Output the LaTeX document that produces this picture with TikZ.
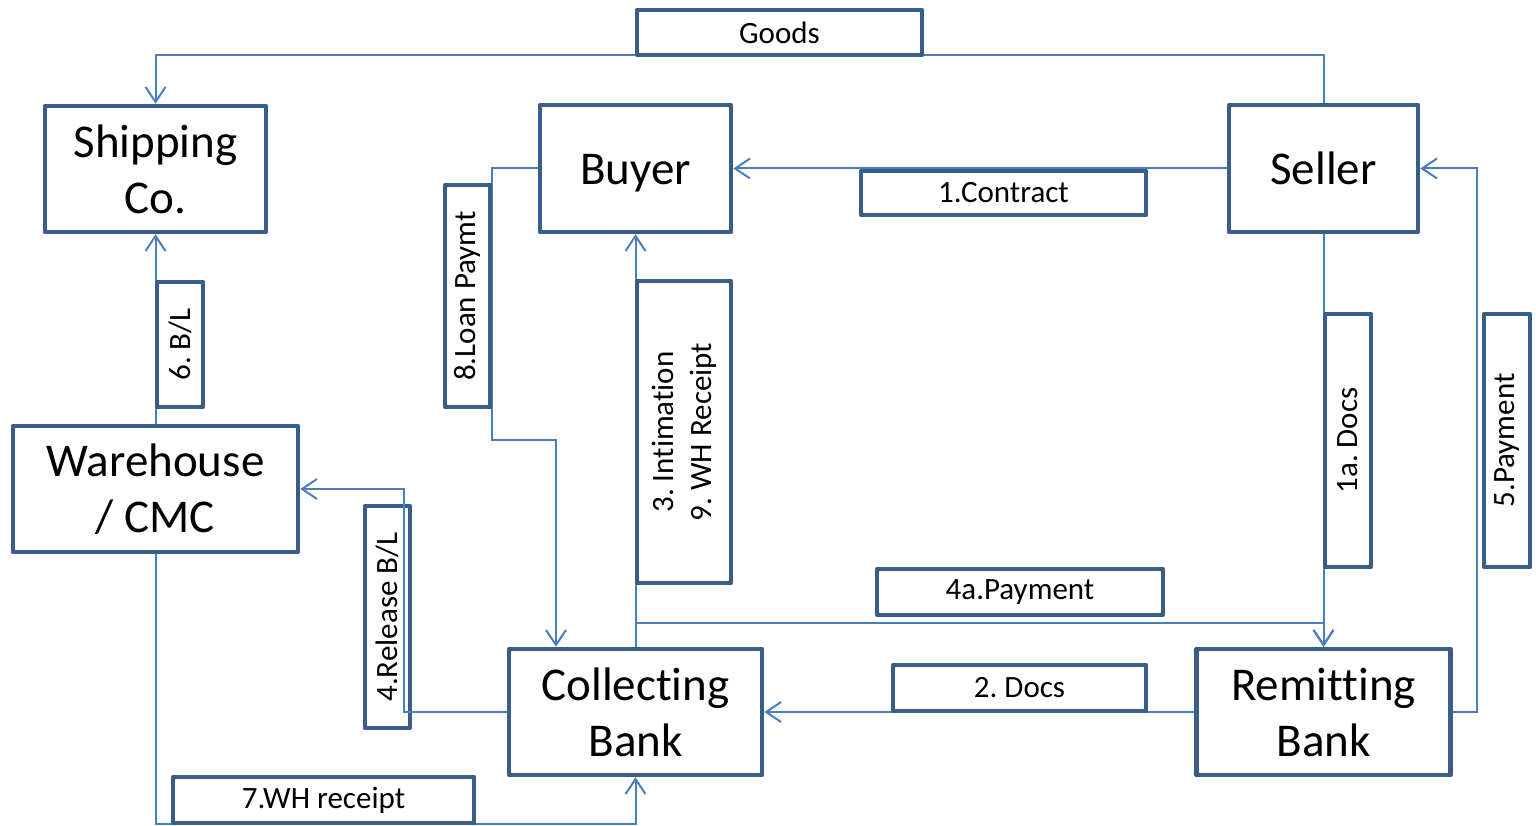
\documentclass[tikz,border=0pt]{standalone}
\usepackage{fontspec}
\setmainfont{Carlito}[Ligatures=CommonOff]
\usetikzlibrary{arrows.meta}
\definecolor{boxblue}{HTML}{385D8A}
\definecolor{lineblue}{HTML}{4A7EBB}
\frenchspacing
\tikzset{
  mainbox/.style={draw=boxblue, line width=4.5pt, fill=white, inner sep=0pt,
    align=center, font=\fontsize{47}{56}\selectfont, line join=round},
  oneline/.style={text height=33pt, text depth=0pt},
  lbl/.style={draw=boxblue, line width=4.5pt, fill=white, inner sep=0pt,
    align=center, font=\fontsize{31}{38}\selectfont, line join=round},
  conn/.style={draw=lineblue, line width=2pt, -{Straight Barb[length=15pt,width=20pt,line width=2pt]}}
}
\begin{document}
\begin{tikzpicture}[x=1pt,y=-1pt]
\useasboundingbox (0,0) rectangle (1536,826);
% main boxes
\node[mainbox, minimum width=221pt, minimum height=126pt] (ship) at (155.5,169) {Shipping\\Co.};
\node[mainbox, oneline, minimum width=191pt, minimum height=127pt] (buyer) at (635.5,168.5) {Buyer};
\node[mainbox, oneline, minimum width=189pt, minimum height=127pt] (seller) at (1323.5,168.5) {Seller};
\node[mainbox, minimum width=285pt, minimum height=126pt] (wh) at (155.5,489) {Warehouse\\/ CMC};
\node[mainbox, minimum width=253pt, minimum height=126pt] (coll) at (635.5,712) {Collecting\\Bank};
\node[mainbox, minimum width=254pt, minimum height=126pt] (remit) at (1323.5,712) {Remitting\\Bank};
% connectors
\draw[conn] (seller.north) -- ++(0,-48) -| (ship.north);
\draw[conn] (seller.west) -- (buyer.east);
\coordinate (l1) at (492,440);
\draw[conn] (buyer.west) -| (l1) -| ([xshift=-79.5pt]coll.north);
\draw[conn] (wh.north) -- (ship.south);
\draw[conn] (coll.north) -- (buyer.south);
\draw[conn] (coll.north) -- ++(0,-24) -| (remit.north);
\draw[conn] (seller.south) -- (remit.north);
\draw[conn] (remit.east) -- ++(24,0) |- (seller.east);
\draw[conn] (remit.west) -- (coll.east);
\draw[conn] (wh.south) -- ++(0,270) -| (coll.south);
% labels
\node[lbl, minimum width=285pt, minimum height=45pt] (goods) at (779.5,32.5) {Goods};
\node[lbl, minimum width=285pt, minimum height=44pt] (contract) at (1003.5,193) {1.Contract};
\node[lbl, minimum width=125pt, minimum height=46pt, rotate=90] (bl) at (180,344.5) {6. B/L};
\node[lbl, minimum width=222pt, minimum height=45pt, rotate=90] (loan) at (467.5,296) {8.Loan Paymt};
\node[lbl, minimum width=302pt, minimum height=94pt, rotate=90] (intim) at (684,432) {3. Intimation\\9. WH Receipt};
\node[lbl, minimum width=253pt, minimum height=46pt, rotate=90] (docs1a) at (1348,440.5) {1a. Docs};
\node[lbl, minimum width=253pt, minimum height=46pt, rotate=90] (pay5) at (1507,440.5) {5.Payment};
\node[lbl, minimum width=286pt, minimum height=46pt] (pay4a) at (1020,592) {4a.Payment};
\node[lbl, minimum width=222pt, minimum height=45pt, rotate=90] (release) at (387.5,617) {4.Release B/L};
\node[lbl, minimum width=253pt, minimum height=46pt] (docs2) at (1019.5,688) {2. Docs};
\node[lbl, minimum width=301pt, minimum height=46pt] (whr) at (323.5,800) {7.WH receipt};
% release connector drawn over its label
\draw[conn] (coll.west) -- ++(-103,0) |- (wh.east);
\end{tikzpicture}
\end{document}
